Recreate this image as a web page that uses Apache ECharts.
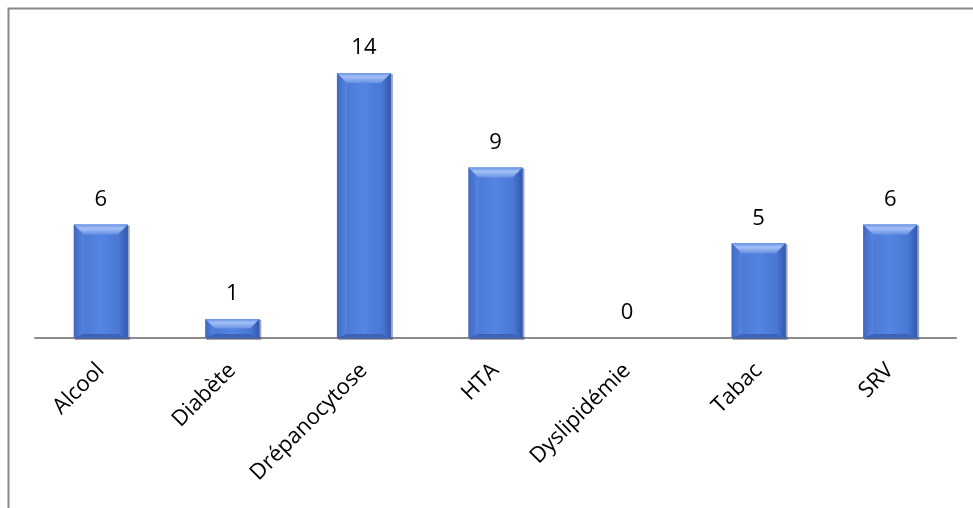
<!DOCTYPE html>
<html>
<head>
<meta charset="utf-8">
<script src="https://cdn.jsdelivr.net/npm/echarts@6/dist/echarts.min.js"></script>
<style>
  html, body { margin: 0; padding: 0; background: #fff; }
  #chart { width: 973px; height: 508px; }
</style>
</head>
<body>
<div id="chart"></div>
<script>
// Facteurs de risque : effectifs par catégorie
const categories = ['Alcool', 'Diabète', 'Drépanocytose', 'HTA', 'Dyslipidémie', 'Tabac', 'SRV'];
const counts = [6, 1, 14, 9, 0, 5, 6];

const chart = echarts.init(document.getElementById('chart'), null, { renderer: 'canvas' });

const FONT = '"Open Sans", "Liberation Sans", sans-serif';

// Barre avec effet biseauté : face centrale, bandes haute/basse et latérales
function renderBevelBar(params, api) {
  const idx = api.value(0);
  const val = api.value(1);
  const top = api.coord([idx, val]);
  const base = api.coord([idx, 0]);
  const w = api.size([1, 0])[0] * 0.41;
  const cx = top[0];
  const x0 = cx - w / 2, x1 = cx + w / 2;
  const y0 = top[1], y1 = base[1];
  const h = y1 - y0;
  const children = [];
  if (h > 0.5) {
    const b = Math.min(10, h / 2, w / 2);
    const bs = Math.min(4, h / 4);
    // ombre portée
    children.push({ type: 'rect', shape: { x: x0 + 1, y: y0 + 1, width: w + 1, height: h + 1 },
      style: { fill: 'rgba(40,60,110,0.45)' } });
    // face principale
    children.push({ type: 'rect', shape: { x: x0, y: y0, width: w, height: h },
      style: { fill: new echarts.graphic.LinearGradient(0, 0, 1, 0, [
        { offset: 0, color: '#4a74cf' }, { offset: 0.5, color: '#5385e2' }, { offset: 1, color: '#4470cc' }]) } });
    // bande latérale gauche
    children.push({ type: 'polygon', shape: { points: [[x0, y0], [x0 + b, y0 + b], [x0 + b, y1 - bs], [x0, y1]] },
      style: { fill: new echarts.graphic.LinearGradient(0, 0, 1, 0, [
        { offset: 0, color: '#4068c2' }, { offset: 1, color: '#5585e0' }]) } });
    // bande latérale droite
    children.push({ type: 'polygon', shape: { points: [[x1, y0], [x1 - b, y0 + b], [x1 - b, y1 - bs], [x1, y1]] },
      style: { fill: new echarts.graphic.LinearGradient(1, 0, 0, 0, [
        { offset: 0, color: '#3358b0' }, { offset: 1, color: '#4d7bd8' }]) } });
    // bande haute éclairée
    children.push({ type: 'polygon', shape: { points: [[x0, y0], [x1, y0], [x1 - b, y0 + b], [x0 + b, y0 + b]] },
      style: { fill: new echarts.graphic.LinearGradient(0, 0, 0, 1, [
        { offset: 0, color: '#6a94e6' }, { offset: 0.4, color: '#a3c0f5' }, { offset: 1, color: '#6890e4' }]) } });
    // bande basse
    children.push({ type: 'polygon', shape: { points: [[x0, y1], [x1, y1], [x1 - b, y1 - bs], [x0 + b, y1 - bs]] },
      style: { fill: '#3d62b8' } });
  }
  children.push({ type: 'text', style: { x: cx, y: y0 - 25, text: String(val), fill: '#000',
    font: '22px ' + FONT, align: 'center', verticalAlign: 'middle' } });
  return { type: 'group', children: children };
}

chart.setOption({
  animation: false,
  backgroundColor: '#fff',
  graphic: [{
    type: 'rect', left: 6, top: 6, z: 100, silent: true,
    shape: { width: 1200, height: 800 },
    style: { fill: 'none', stroke: '#8a8a8a', lineWidth: 2 }
  }],
  grid: { left: 35, right: 17, top: 35, bottom: 170, containLabel: false },
  xAxis: {
    type: 'category',
    data: categories,
    axisLine: { show: true, lineStyle: { color: '#8c8c8c', width: 2 } },
    axisTick: { show: false },
    axisLabel: { rotate: 45, margin: 29, color: '#000', fontSize: 22, fontFamily: FONT, interval: 0 }
  },
  yAxis: {
    type: 'value', min: 0, max: 16, interval: 2,
    show: false
  },
  series: [{
    type: 'custom',
    renderItem: renderBevelBar,
    encode: { x: 0, y: 1 },
    data: counts.map((v, i) => [i, v]),
    z: 3
  }]
});
</script>
</body>
</html>
